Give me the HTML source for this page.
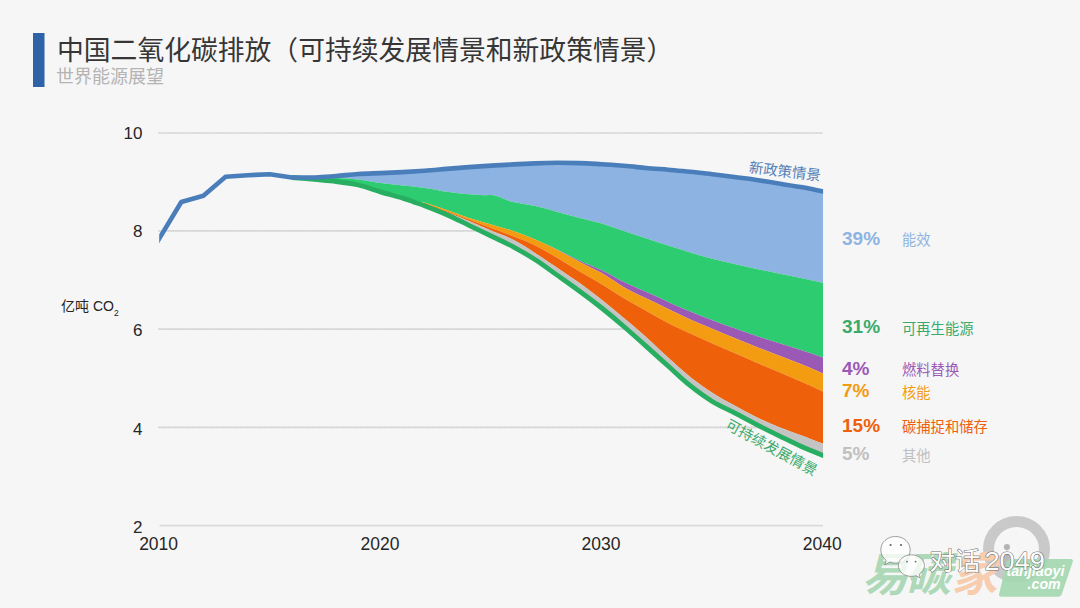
<!DOCTYPE html>
<html><head><meta charset="utf-8"><title>中国二氧化碳排放</title>
<style>html,body{margin:0;padding:0;background:#f6f6f6;font-family:"Liberation Sans",sans-serif;}svg{display:block}</style>
</head><body>
<svg width="1080" height="608" viewBox="0 0 1080 608">
<rect width="1080" height="608" fill="#f6f6f6"/>
<rect x="33" y="33" width="11.5" height="54" fill="#2f63a8"/>
<text x="57" y="60" font-family="'Liberation Sans', 'Noto Sans CJK SC', sans-serif" font-size="26.8" fill="#363636">中国二氧化碳排放（可持续发展情景和新政策情景）</text>
<text x="56" y="82.5" font-family="'Liberation Sans', 'Noto Sans CJK SC', sans-serif" font-size="18" fill="#b4b4b4">世界能源展望</text>
<line x1="158.5" x2="823" y1="133" y2="133" stroke="#dedede" stroke-width="1.6"/>
<line x1="158.5" x2="823" y1="133" y2="133" stroke="#cccccc" stroke-width="1.6" stroke-dasharray="1 1.4" opacity="0.7"/>
<line x1="158.5" x2="823" y1="230.9" y2="230.9" stroke="#dedede" stroke-width="1.6"/>
<line x1="158.5" x2="823" y1="230.9" y2="230.9" stroke="#cccccc" stroke-width="1.6" stroke-dasharray="1 1.4" opacity="0.7"/>
<line x1="158.5" x2="823" y1="329.1" y2="329.1" stroke="#dedede" stroke-width="1.6"/>
<line x1="158.5" x2="823" y1="329.1" y2="329.1" stroke="#cccccc" stroke-width="1.6" stroke-dasharray="1 1.4" opacity="0.7"/>
<line x1="158.5" x2="823" y1="427.4" y2="427.4" stroke="#dedede" stroke-width="1.6"/>
<line x1="158.5" x2="823" y1="427.4" y2="427.4" stroke="#cccccc" stroke-width="1.6" stroke-dasharray="1 1.4" opacity="0.7"/>
<line x1="159.5" x2="823" y1="525.6" y2="525.6" stroke="#dcdcdc" stroke-width="1.7"/>
<clipPath id="cl"><rect x="159.2" y="100" width="663.9" height="420"/></clipPath>
<g clip-path="url(#cl)">
<path fill="#8db3e2" d="M291.9,177.5C295.6,177.5 306.7,177.8 314.1,177.5C321.4,177.2 328.8,176.6 336.2,176.0C343.6,175.4 350.9,174.5 358.3,174.0C365.7,173.5 373.1,173.4 380.4,173.1C387.8,172.8 395.2,172.5 402.6,172.1C409.9,171.7 417.3,171.2 424.7,170.7C432.1,170.2 439.4,169.5 446.8,168.9C454.2,168.3 461.6,167.7 468.9,167.1C476.3,166.5 483.7,166.0 491.1,165.6C498.4,165.2 505.8,164.8 513.2,164.4C520.6,164.0 528.0,163.7 535.3,163.4C542.7,163.1 550.1,162.9 557.5,162.8C564.8,162.8 572.2,162.9 579.6,163.1C587.0,163.3 594.3,163.8 601.7,164.2C609.1,164.6 616.5,165.2 623.8,165.8C631.2,166.4 638.6,167.3 646.0,168.0C653.3,168.7 660.7,169.1 668.1,169.7C675.5,170.3 682.8,171.1 690.2,171.8C697.6,172.6 705.0,173.3 712.3,174.2C719.7,175.1 727.1,176.0 734.5,177.0C741.8,178.0 749.2,178.9 756.6,180.0C764.0,181.1 771.3,182.2 778.7,183.4C786.1,184.6 793.5,185.8 800.8,187.1C808.2,188.4 819.3,190.7 823.0,191.4L823.0,282.9C819.3,282.1 808.2,279.7 800.8,278.1C793.5,276.5 786.1,274.9 778.7,273.4C771.3,271.9 764.0,270.6 756.6,269.0C749.2,267.4 741.8,265.7 734.5,264.0C727.1,262.3 719.7,260.7 712.3,258.8C705.0,256.9 697.6,254.8 690.2,252.6C682.8,250.4 675.5,248.0 668.1,245.6C660.7,243.2 653.3,240.7 646.0,238.3C638.6,235.9 631.2,233.5 623.8,231.0C616.5,228.5 609.1,225.7 601.7,223.5C594.3,221.3 587.0,219.9 579.6,218.0C572.2,216.1 564.8,214.0 557.5,212.0C550.1,210.0 542.7,207.8 535.3,206.1C528.0,204.4 519.8,203.8 513.2,202.1C506.6,200.4 500.3,196.8 495.5,195.7C490.7,194.5 488.9,195.4 484.4,195.2C480.0,195.0 475.2,194.9 468.9,194.3C462.7,193.7 454.2,192.8 446.8,191.7C439.4,190.6 432.1,188.9 424.7,187.9C417.3,186.9 409.9,186.4 402.6,185.6C395.2,184.8 387.8,184.1 380.4,183.1C373.1,182.1 365.7,180.2 358.3,179.4C350.9,178.6 343.6,178.3 336.2,178.0C328.8,177.7 321.4,177.9 314.1,177.8C306.7,177.7 295.6,177.6 291.9,177.5Z"/>
<path fill="#2ecc71" d="M291.9,177.5C295.6,177.6 306.7,177.7 314.1,177.8C321.4,177.9 328.8,177.7 336.2,178.0C343.6,178.3 350.9,178.6 358.3,179.4C365.7,180.2 373.1,182.1 380.4,183.1C387.8,184.1 395.2,184.8 402.6,185.6C409.9,186.4 417.3,186.9 424.7,187.9C432.1,188.9 439.4,190.6 446.8,191.7C454.2,192.8 462.7,193.7 468.9,194.3C475.2,194.9 480.0,195.0 484.4,195.2C488.9,195.4 490.7,194.5 495.5,195.7C500.3,196.8 506.6,200.4 513.2,202.1C519.8,203.8 528.0,204.4 535.3,206.1C542.7,207.8 550.1,210.0 557.5,212.0C564.8,214.0 572.2,216.1 579.6,218.0C587.0,219.9 594.3,221.3 601.7,223.5C609.1,225.7 616.5,228.5 623.8,231.0C631.2,233.5 638.6,235.9 646.0,238.3C653.3,240.7 660.7,243.2 668.1,245.6C675.5,248.0 682.8,250.4 690.2,252.6C697.6,254.8 705.0,256.9 712.3,258.8C719.7,260.7 727.1,262.3 734.5,264.0C741.8,265.7 749.2,267.4 756.6,269.0C764.0,270.6 771.3,271.9 778.7,273.4C786.1,274.9 793.5,276.5 800.8,278.1C808.2,279.7 819.3,282.1 823.0,282.9L823.0,357.5C819.3,356.2 808.2,352.4 800.8,350.0C793.5,347.6 786.1,345.3 778.7,343.0C771.3,340.7 764.0,338.4 756.6,336.0C749.2,333.6 741.8,330.9 734.5,328.3C727.1,325.7 719.7,323.0 712.3,320.2C705.0,317.4 697.6,314.6 690.2,311.5C682.8,308.4 675.5,305.2 668.1,301.9C660.7,298.6 653.3,295.1 646.0,291.8C638.6,288.5 631.2,285.6 623.8,282.0C616.5,278.4 609.1,273.7 601.7,270.2C594.3,266.7 587.0,264.2 579.6,260.8C572.2,257.4 564.8,253.4 557.5,249.8C550.1,246.2 542.7,242.5 535.3,239.4C528.0,236.3 520.6,233.5 513.2,231.0C505.8,228.5 498.4,226.8 491.1,224.6C483.7,222.4 476.3,220.4 468.9,218.0C461.6,215.6 454.2,212.6 446.8,210.1C439.4,207.6 430.2,204.2 424.7,202.8C419.2,201.4 417.3,202.7 413.6,201.9C409.9,201.1 408.1,199.8 402.6,198.1C397.0,196.4 387.8,194.1 380.4,191.9C373.1,189.7 365.7,186.7 358.3,185.0C350.9,183.3 343.6,182.4 336.2,181.5C328.8,180.6 321.4,180.1 314.1,179.4C306.7,178.7 295.6,177.8 291.9,177.5Z"/>
<path fill="#9b59b6" d="M413.6,201.9C415.5,202.1 419.2,201.4 424.7,202.8C430.2,204.2 439.4,207.6 446.8,210.1C454.2,212.6 461.6,215.6 468.9,218.0C476.3,220.4 483.7,222.4 491.1,224.6C498.4,226.8 505.8,228.5 513.2,231.0C520.6,233.5 528.0,236.3 535.3,239.4C542.7,242.5 550.1,246.2 557.5,249.8C564.8,253.4 572.2,257.4 579.6,260.8C587.0,264.2 594.3,266.7 601.7,270.2C609.1,273.7 616.5,278.4 623.8,282.0C631.2,285.6 638.6,288.5 646.0,291.8C653.3,295.1 660.7,298.6 668.1,301.9C675.5,305.2 682.8,308.4 690.2,311.5C697.6,314.6 705.0,317.4 712.3,320.2C719.7,323.0 727.1,325.7 734.5,328.3C741.8,330.9 749.2,333.6 756.6,336.0C764.0,338.4 771.3,340.7 778.7,343.0C786.1,345.3 793.5,347.6 800.8,350.0C808.2,352.4 819.3,356.2 823.0,357.5L823.0,373.4C819.3,371.8 808.2,367.0 800.8,364.0C793.5,361.0 786.1,358.2 778.7,355.4C771.3,352.6 764.0,349.9 756.6,347.0C749.2,344.1 741.8,341.0 734.5,338.0C727.1,335.0 719.7,331.9 712.3,328.8C705.0,325.7 697.6,322.7 690.2,319.4C682.8,316.1 675.5,312.4 668.1,308.9C660.7,305.4 653.3,301.9 646.0,298.3C638.6,294.7 631.2,291.4 623.8,287.2C616.5,283.0 609.1,277.3 601.7,273.1C594.3,268.9 587.0,265.9 579.6,262.0C572.2,258.1 564.8,253.8 557.5,250.0C550.1,246.2 542.7,242.6 535.3,239.4C528.0,236.2 520.6,233.5 513.2,231.0C505.8,228.5 498.4,226.8 491.1,224.6C483.7,222.4 476.3,220.4 468.9,218.0C461.6,215.6 454.2,212.6 446.8,210.1C439.4,207.6 430.2,204.2 424.7,202.8C419.2,201.4 415.5,202.1 413.6,201.9Z"/>
<path fill="#f39c12" d="M413.6,201.9C415.5,202.1 419.2,201.4 424.7,202.8C430.2,204.2 439.4,207.6 446.8,210.1C454.2,212.6 461.6,215.6 468.9,218.0C476.3,220.4 483.7,222.4 491.1,224.6C498.4,226.8 505.8,228.5 513.2,231.0C520.6,233.5 528.0,236.2 535.3,239.4C542.7,242.6 550.1,246.2 557.5,250.0C564.8,253.8 572.2,258.1 579.6,262.0C587.0,265.9 594.3,268.9 601.7,273.1C609.1,277.3 616.5,283.0 623.8,287.2C631.2,291.4 638.6,294.7 646.0,298.3C653.3,301.9 660.7,305.4 668.1,308.9C675.5,312.4 682.8,316.1 690.2,319.4C697.6,322.7 705.0,325.7 712.3,328.8C719.7,331.9 727.1,335.0 734.5,338.0C741.8,341.0 749.2,344.1 756.6,347.0C764.0,349.9 771.3,352.6 778.7,355.4C786.1,358.2 793.5,361.0 800.8,364.0C808.2,367.0 819.3,371.8 823.0,373.4L823.0,391.5C819.3,389.9 808.2,384.8 800.8,381.6C793.5,378.4 786.1,375.2 778.7,372.1C771.3,369.0 764.0,366.0 756.6,362.8C749.2,359.6 741.8,356.3 734.5,353.1C727.1,349.9 719.7,346.8 712.3,343.5C705.0,340.2 697.6,337.0 690.2,333.6C682.8,330.2 675.5,326.8 668.1,323.0C660.7,319.2 653.3,314.9 646.0,310.8C638.6,306.7 631.2,302.7 623.8,298.3C616.5,293.9 609.1,288.8 601.7,284.3C594.3,279.8 587.0,275.9 579.6,271.5C572.2,267.1 564.8,262.3 557.5,258.0C550.1,253.7 542.7,249.1 535.3,245.5C528.0,241.9 520.6,239.2 513.2,236.3C505.8,233.4 498.4,230.7 491.1,227.9C483.7,225.1 476.3,222.1 468.9,219.4C461.6,216.7 454.2,214.1 446.8,211.5C439.4,208.9 430.2,205.6 424.7,204.0C419.2,202.4 415.5,202.2 413.6,201.9Z"/>
<path fill="#ee6009" d="M413.6,201.9C415.5,202.2 419.2,202.4 424.7,204.0C430.2,205.6 439.4,208.9 446.8,211.5C454.2,214.1 461.6,216.7 468.9,219.4C476.3,222.1 483.7,225.1 491.1,227.9C498.4,230.7 505.8,233.4 513.2,236.3C520.6,239.2 528.0,241.9 535.3,245.5C542.7,249.1 550.1,253.7 557.5,258.0C564.8,262.3 572.2,267.1 579.6,271.5C587.0,275.9 594.3,279.8 601.7,284.3C609.1,288.8 616.5,293.9 623.8,298.3C631.2,302.7 638.6,306.7 646.0,310.8C653.3,314.9 660.7,319.2 668.1,323.0C675.5,326.8 682.8,330.2 690.2,333.6C697.6,337.0 705.0,340.2 712.3,343.5C719.7,346.8 727.1,349.9 734.5,353.1C741.8,356.3 749.2,359.6 756.6,362.8C764.0,366.0 771.3,369.0 778.7,372.1C786.1,375.2 793.5,378.4 800.8,381.6C808.2,384.8 819.3,389.9 823.0,391.5L823.0,443.8C819.3,442.4 808.2,438.1 800.8,435.3C793.5,432.5 786.1,430.0 778.7,427.0C771.3,424.0 764.0,420.8 756.6,417.2C749.2,413.6 741.8,409.7 734.5,405.6C727.1,401.5 719.7,397.5 712.3,392.7C705.0,387.9 697.6,382.8 690.2,376.9C682.8,371.0 675.5,364.1 668.1,357.5C660.7,350.9 653.3,343.6 646.0,337.0C638.6,330.4 631.2,324.2 623.8,318.0C616.5,311.8 609.1,305.6 601.7,299.8C594.3,294.0 587.0,288.3 579.6,283.0C572.2,277.7 564.8,273.0 557.5,268.0C550.1,263.0 542.7,257.9 535.3,253.2C528.0,248.5 520.6,243.6 513.2,239.8C505.8,236.0 498.4,233.8 491.1,230.6C483.7,227.4 476.3,223.9 468.9,220.9C461.6,217.9 454.2,215.2 446.8,212.5C439.4,209.8 430.2,206.8 424.7,205.0C419.2,203.2 415.5,202.4 413.6,201.9Z"/>
<path fill="#c4c4c4" d="M413.6,201.9C415.5,202.4 419.2,203.2 424.7,205.0C430.2,206.8 439.4,209.8 446.8,212.5C454.2,215.2 461.6,217.9 468.9,220.9C476.3,223.9 483.7,227.4 491.1,230.6C498.4,233.8 505.8,236.0 513.2,239.8C520.6,243.6 528.0,248.5 535.3,253.2C542.7,257.9 550.1,263.0 557.5,268.0C564.8,273.0 572.2,277.7 579.6,283.0C587.0,288.3 594.3,294.0 601.7,299.8C609.1,305.6 616.5,311.8 623.8,318.0C631.2,324.2 638.6,330.4 646.0,337.0C653.3,343.6 660.7,350.9 668.1,357.5C675.5,364.1 682.8,371.0 690.2,376.9C697.6,382.8 705.0,387.9 712.3,392.7C719.7,397.5 727.1,401.5 734.5,405.6C741.8,409.7 749.2,413.6 756.6,417.2C764.0,420.8 771.3,424.0 778.7,427.0C786.1,430.0 793.5,432.5 800.8,435.3C808.2,438.1 819.3,442.4 823.0,443.8L823.0,455.4C819.3,453.9 808.2,449.6 800.8,446.3C793.5,443.0 786.1,439.2 778.7,435.6C771.3,432.0 764.0,428.4 756.6,424.6C749.2,420.8 741.8,416.7 734.5,412.8C727.1,408.9 719.7,406.0 712.3,401.5C705.0,397.0 697.6,391.6 690.2,385.7C682.8,379.8 675.5,372.6 668.1,366.0C660.7,359.4 653.3,352.7 646.0,346.1C638.6,339.5 631.2,332.9 623.8,326.5C616.5,320.1 609.1,313.9 601.7,308.0C594.3,302.1 587.0,296.6 579.6,291.2C572.2,285.8 564.8,280.6 557.5,275.4C550.1,270.2 542.7,264.6 535.3,259.8C528.0,255.0 520.6,250.8 513.2,246.8C505.8,242.8 498.4,239.6 491.1,236.0C483.7,232.4 476.3,228.9 468.9,225.3C461.6,221.8 454.2,217.9 446.8,214.7C439.4,211.4 430.2,207.9 424.7,205.8C419.2,203.7 415.5,202.6 413.6,201.9Z"/>
<path fill="none" stroke="#27ae60" stroke-width="4.8" stroke-linejoin="round" d="M291.9,177.5C295.6,177.8 306.7,178.7 314.1,179.4C321.4,180.1 328.8,180.6 336.2,181.5C343.6,182.4 350.9,183.3 358.3,185.0C365.7,186.7 373.1,189.7 380.4,191.9C387.8,194.1 397.0,196.4 402.6,198.1C408.1,199.8 409.9,200.6 413.6,201.9C417.3,203.2 419.2,203.7 424.7,205.8C430.2,207.9 439.4,211.4 446.8,214.7C454.2,217.9 461.6,221.8 468.9,225.3C476.3,228.9 483.7,232.4 491.1,236.0C498.4,239.6 505.8,242.8 513.2,246.8C520.6,250.8 528.0,255.0 535.3,259.8C542.7,264.6 550.1,270.2 557.5,275.4C564.8,280.6 572.2,285.8 579.6,291.2C587.0,296.6 594.3,302.1 601.7,308.0C609.1,313.9 616.5,320.1 623.8,326.5C631.2,332.9 638.6,339.5 646.0,346.1C653.3,352.7 660.7,359.4 668.1,366.0C675.5,372.6 682.8,379.8 690.2,385.7C697.6,391.6 705.0,397.0 712.3,401.5C719.7,406.0 727.1,408.9 734.5,412.8C741.8,416.7 749.2,420.8 756.6,424.6C764.0,428.4 771.3,432.0 778.7,435.6C786.1,439.2 793.5,443.0 800.8,446.3C808.2,449.6 817.4,453.2 823.0,455.4C828.5,457.6 832.2,458.9 834.0,459.6"/>
<path fill="none" stroke="#4a7ebb" stroke-width="4.6" stroke-linejoin="round" stroke-linecap="butt" d="M156.2,243.8 L159.2,238.7 L181.3,202.0 L203.4,195.8 L225.6,176.8 L247.7,175.2 L269.8,174.2 L291.9,177.5 L314.1,177.5L314.1,177.5C317.8,177.2 328.8,176.6 336.2,176.0C343.6,175.4 350.9,174.5 358.3,174.0C365.7,173.5 373.1,173.4 380.4,173.1C387.8,172.8 395.2,172.5 402.6,172.1C409.9,171.7 417.3,171.2 424.7,170.7C432.1,170.2 439.4,169.5 446.8,168.9C454.2,168.3 461.6,167.7 468.9,167.1C476.3,166.5 483.7,166.0 491.1,165.6C498.4,165.2 505.8,164.8 513.2,164.4C520.6,164.0 528.0,163.7 535.3,163.4C542.7,163.1 550.1,162.9 557.5,162.8C564.8,162.8 572.2,162.9 579.6,163.1C587.0,163.3 594.3,163.8 601.7,164.2C609.1,164.6 616.5,165.2 623.8,165.8C631.2,166.4 638.6,167.3 646.0,168.0C653.3,168.7 660.7,169.1 668.1,169.7C675.5,170.3 682.8,171.1 690.2,171.8C697.6,172.6 705.0,173.3 712.3,174.2C719.7,175.1 727.1,176.0 734.5,177.0C741.8,178.0 749.2,178.9 756.6,180.0C764.0,181.1 771.3,182.2 778.7,183.4C786.1,184.6 793.5,185.8 800.8,187.1C808.2,188.4 817.4,190.3 823.0,191.4C828.5,192.5 832.2,193.2 834.0,193.6"/>
</g>
<text x="142.5" y="139.4" text-anchor="end" font-family="'Liberation Sans', sans-serif" font-size="17" fill="#262626">10</text>
<text x="142.5" y="237.3" text-anchor="end" font-family="'Liberation Sans', sans-serif" font-size="17" fill="#262626">8</text>
<text x="142.5" y="335.5" text-anchor="end" font-family="'Liberation Sans', sans-serif" font-size="17" fill="#262626">6</text>
<text x="142.5" y="434.6" text-anchor="end" font-family="'Liberation Sans', sans-serif" font-size="17" fill="#262626">4</text>
<text x="142.5" y="532.9" text-anchor="end" font-family="'Liberation Sans', sans-serif" font-size="17" fill="#262626">2</text>
<text x="158.6" y="549.7" text-anchor="middle" font-family="'Liberation Sans', sans-serif" font-size="17.5" fill="#262626">2010</text>
<text x="380" y="549.7" text-anchor="middle" font-family="'Liberation Sans', sans-serif" font-size="17.5" fill="#262626">2020</text>
<text x="601" y="549.7" text-anchor="middle" font-family="'Liberation Sans', sans-serif" font-size="17.5" fill="#262626">2030</text>
<text x="822.2" y="549.7" text-anchor="middle" font-family="'Liberation Sans', sans-serif" font-size="17.5" fill="#262626">2040</text>
<text x="61" y="311" font-family="'Liberation Sans', 'Noto Sans CJK SC', sans-serif" font-size="14" fill="#222">亿吨 CO<tspan font-size="8.5" dy="5">2</tspan></text>
<text x="842" y="244.7" font-family="'Liberation Sans', sans-serif" font-size="19" font-weight="bold" fill="#8db3e2">39%</text>
<text x="902" y="245" font-family="'Liberation Sans', 'Noto Sans CJK SC', sans-serif" font-size="14.3" fill="#8db3e2">能效</text>
<text x="842" y="333.2" font-family="'Liberation Sans', sans-serif" font-size="19" font-weight="bold" fill="#3aaa6a">31%</text>
<text x="902" y="333.5" font-family="'Liberation Sans', 'Noto Sans CJK SC', sans-serif" font-size="14.3" fill="#3aaa6a">可再生能源</text>
<text x="842" y="374.5" font-family="'Liberation Sans', sans-serif" font-size="19" font-weight="bold" fill="#9b59b6">4%</text>
<text x="902" y="374.8" font-family="'Liberation Sans', 'Noto Sans CJK SC', sans-serif" font-size="14.3" fill="#9b59b6">燃料替换</text>
<text x="842" y="397.2" font-family="'Liberation Sans', sans-serif" font-size="19" font-weight="bold" fill="#f39c12">7%</text>
<text x="902" y="397.5" font-family="'Liberation Sans', 'Noto Sans CJK SC', sans-serif" font-size="14.3" fill="#f39c12">核能</text>
<text x="842" y="431.7" font-family="'Liberation Sans', sans-serif" font-size="19" font-weight="bold" fill="#ee6009">15%</text>
<text x="902" y="432" font-family="'Liberation Sans', 'Noto Sans CJK SC', sans-serif" font-size="14.3" fill="#ee6009">碳捕捉和储存</text>
<text x="842" y="460.2" font-family="'Liberation Sans', sans-serif" font-size="19" font-weight="bold" fill="#c0c0c0">5%</text>
<text x="902" y="460.5" font-family="'Liberation Sans', 'Noto Sans CJK SC', sans-serif" font-size="14.3" fill="#c0c0c0">其他</text>
<text x="748.5" y="172.3" transform="rotate(6.7 748.5 172.3)" font-family="'Liberation Sans', 'Noto Sans CJK SC', sans-serif" font-size="14.4" fill="#5580b8">新政策情景</text>
<text x="724.5" y="428" transform="rotate(28.3 724.5 428)" font-family="'Liberation Sans', 'Noto Sans CJK SC', sans-serif" font-size="14.5" fill="#3aaa6a">可持续发展情景</text>
<g id="wm">
<circle cx="1016.5" cy="549.4" r="28" fill="none" stroke="#c9c9c9" stroke-width="11"/>
<circle cx="1006.9" cy="547.1" r="3.1" fill="#b4b4b4"/>
<rect x="1003.8" y="552.5" width="6.2" height="16" fill="#b9b9b9"/>
<text x="862" y="591" font-family="'Liberation Sans', 'Noto Sans CJK SC', sans-serif" font-size="46" font-weight="bold" font-style="italic" fill="#add9b8">易</text>
<text x="905" y="591" font-family="'Liberation Sans', 'Noto Sans CJK SC', sans-serif" font-size="46" font-weight="bold" font-style="italic" fill="#add9b8">碳</text>
<text x="951.5" y="591" font-family="'Liberation Sans', 'Noto Sans CJK SC', sans-serif" font-size="46" font-weight="bold" font-style="italic" fill="#f6cdae">家</text>
<path d="M1010.2,559 L1070.6,559 Q1073.8,559 1072.7,562 L1061.8,594 Q1060.8,596.8 1057.8,596.8 L1001.3,596.8 Q998.2,596.8 999.2,593.8 L1006.6,562 Q1007.3,559 1010.2,559Z" fill="#a5d8b0" opacity="0.93"/>
<text x="1006.4" y="575.6" font-family="Liberation Sans, sans-serif" font-size="14.2" font-weight="bold" font-style="italic" fill="#fff" textLength="58" lengthAdjust="spacingAndGlyphs">tanjiaoyi</text>
<text x="1027.6" y="589.4" font-family="Liberation Sans, sans-serif" font-size="14.2" font-weight="bold" font-style="italic" fill="#fff" textLength="33" lengthAdjust="spacingAndGlyphs">.com</text>
<g fill="#fff" fill-opacity="0.78" stroke="#7a7a7a" stroke-width="0.7" stroke-linejoin="round">
<path d="M895.5,536.5 C887,536.5 880.8,542.6 880.8,550 C880.8,554.2 882.8,557.8 886.2,560.3 L884.8,564.8 L890,562.1 C891.7,562.8 893.6,563.2 895.5,563.2 C903.8,563.2 910.2,557.4 910.2,550 C910.2,542.6 903.8,536.5 895.5,536.5Z"/>
<path d="M911.4,554.8 C904.2,554.8 898.4,559.6 898.4,565.6 C898.4,571.6 904.2,576.4 911.4,576.4 C913,576.4 914.6,576.1 916,575.7 L920.2,577.9 L919.1,574.2 C922.3,572.2 924.4,569.1 924.4,565.6 C924.4,559.6 918.6,554.8 911.4,554.8Z"/>
</g>
<g fill="#666"><circle cx="890.6" cy="545" r="1.1"/><circle cx="901" cy="545" r="1.1"/><circle cx="907" cy="561.6" r="0.9"/><circle cx="915.6" cy="561.6" r="0.9"/></g>
<text x="929.5" y="569.6" font-family="'Liberation Sans', 'Noto Sans CJK SC', sans-serif" font-size="25.5" fill="#fff" stroke="#666" stroke-width="1.05" stroke-linejoin="round" paint-order="stroke" opacity="0.95">对话</text>
<text x="984.4" y="569.6" font-family="Liberation Sans, sans-serif" font-size="25.5" fill="#fff" stroke="#666" stroke-width="1.05" stroke-linejoin="round" paint-order="stroke" opacity="0.95" textLength="60.5" lengthAdjust="spacingAndGlyphs">2049</text>
</g>
</svg>
</body></html>
